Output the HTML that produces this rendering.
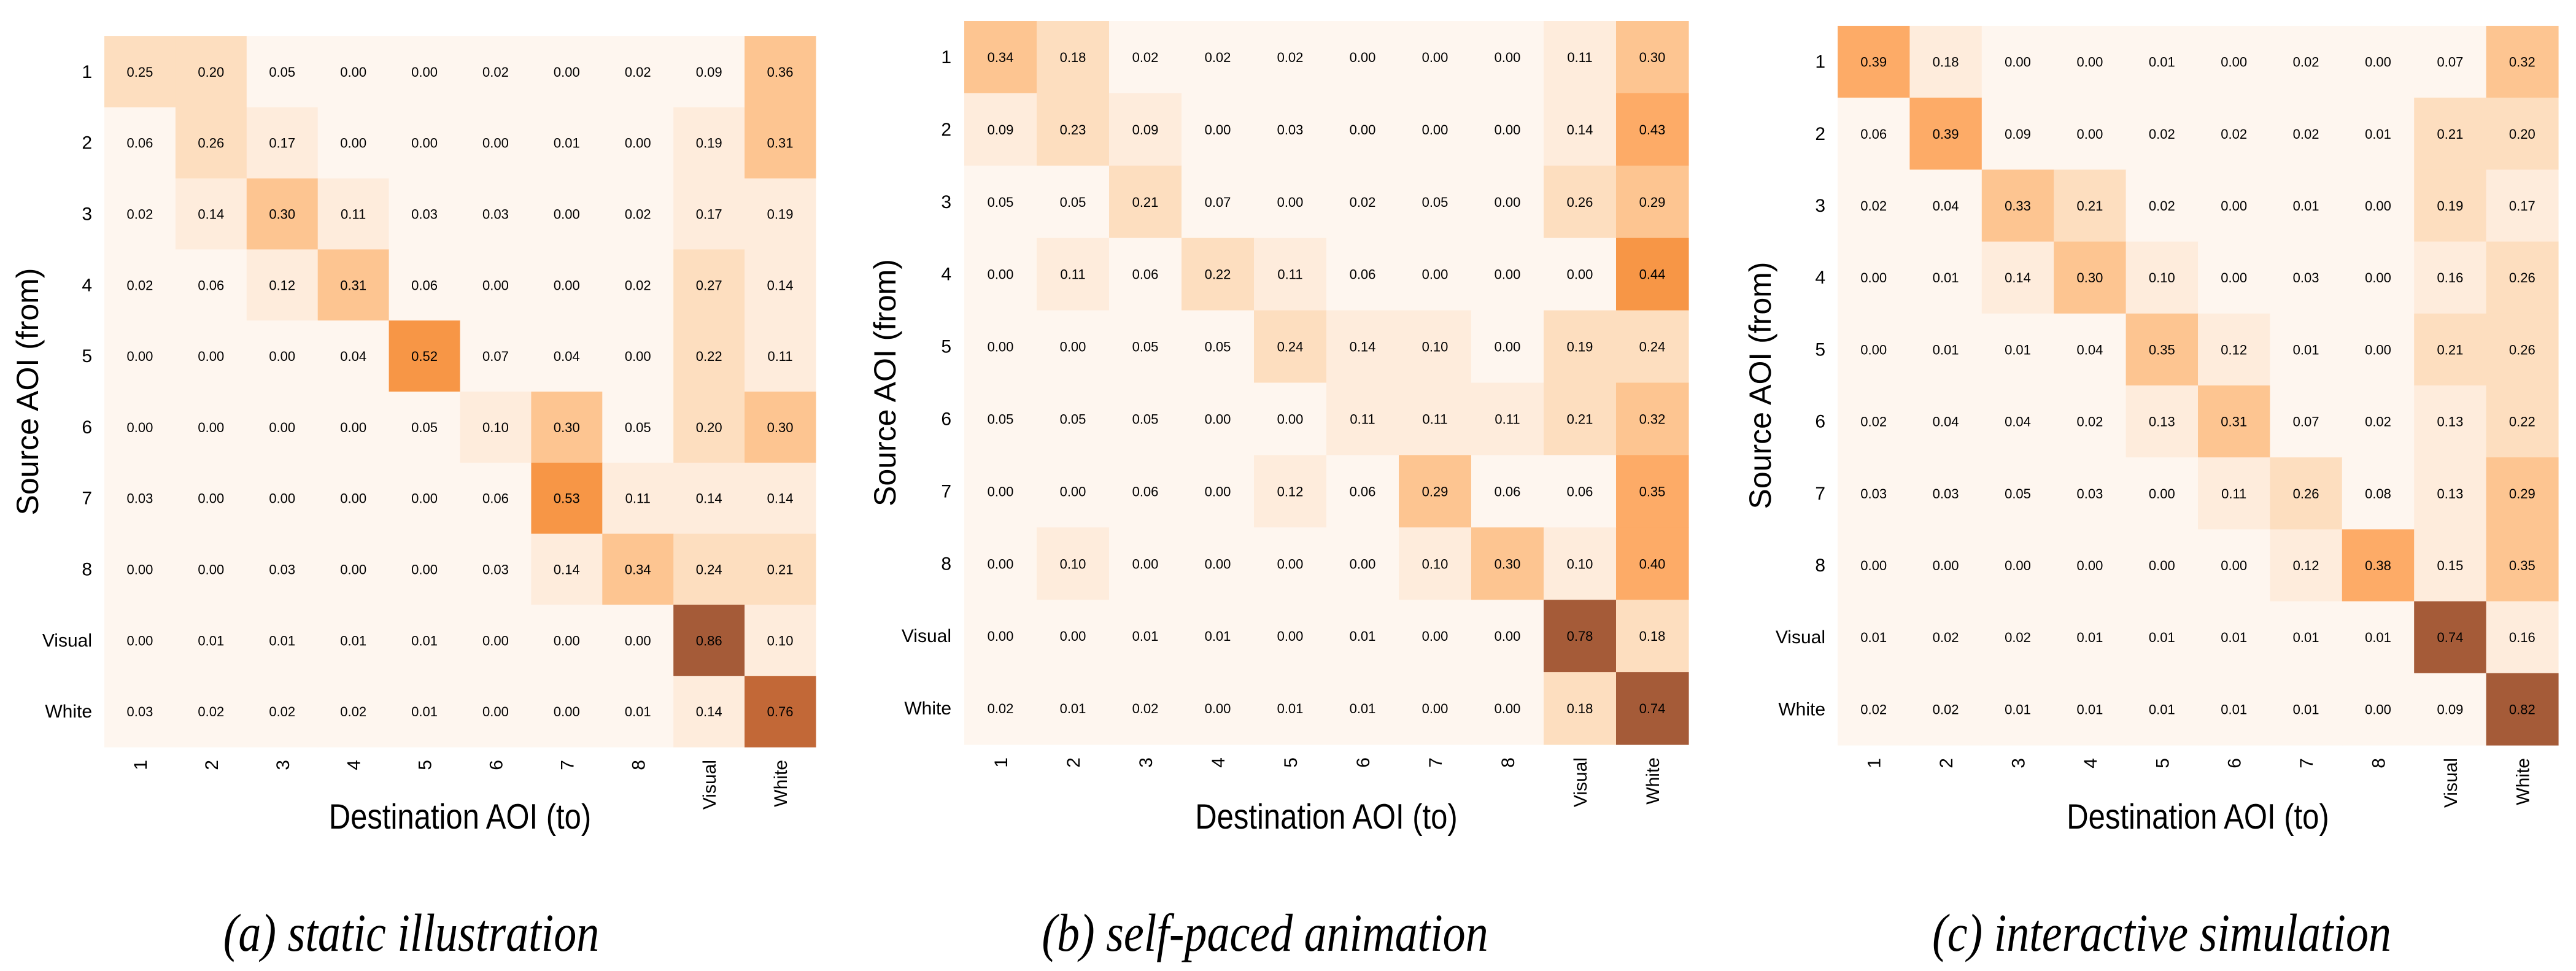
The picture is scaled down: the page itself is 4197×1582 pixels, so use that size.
<!DOCTYPE html>
<html><head><meta charset="utf-8"><style>
html,body{margin:0;padding:0;background:#fff;}
svg{display:block;}
text{font-family:"Liberation Sans",Arial,sans-serif;fill:#000;}
.cap{font-family:"Liberation Serif","Times New Roman",serif;font-style:italic;}
</style></head><body>
<svg id="fig" width="4197" height="1582" viewBox="0 0 4197 1582" xmlns="http://www.w3.org/2000/svg"></svg>
<script>
const labels = ["1","2","3","4","5","6","7","8","Visual","White"];
const valuesA = [
[.25,.20,.05,.00,.00,.02,.00,.02,.09,.36],
[.06,.26,.17,.00,.00,.00,.01,.00,.19,.31],
[.02,.14,.30,.11,.03,.03,.00,.02,.17,.19],
[.02,.06,.12,.31,.06,.00,.00,.02,.27,.14],
[.00,.00,.00,.04,.52,.07,.04,.00,.22,.11],
[.00,.00,.00,.00,.05,.10,.30,.05,.20,.30],
[.03,.00,.00,.00,.00,.06,.53,.11,.14,.14],
[.00,.00,.03,.00,.00,.03,.14,.34,.24,.21],
[.00,.01,.01,.01,.01,.00,.00,.00,.86,.10],
[.03,.02,.02,.02,.01,.00,.00,.01,.14,.76]];
const valuesB = [
[.34,.18,.02,.02,.02,.00,.00,.00,.11,.30],
[.09,.23,.09,.00,.03,.00,.00,.00,.14,.43],
[.05,.05,.21,.07,.00,.02,.05,.00,.26,.29],
[.00,.11,.06,.22,.11,.06,.00,.00,.00,.44],
[.00,.00,.05,.05,.24,.14,.10,.00,.19,.24],
[.05,.05,.05,.00,.00,.11,.11,.11,.21,.32],
[.00,.00,.06,.00,.12,.06,.29,.06,.06,.35],
[.00,.10,.00,.00,.00,.00,.10,.30,.10,.40],
[.00,.00,.01,.01,.00,.01,.00,.00,.78,.18],
[.02,.01,.02,.00,.01,.01,.00,.00,.18,.74]];
const valuesC = [
[.39,.18,.00,.00,.01,.00,.02,.00,.07,.32],
[.06,.39,.09,.00,.02,.02,.02,.01,.21,.20],
[.02,.04,.33,.21,.02,.00,.01,.00,.19,.17],
[.00,.01,.14,.30,.10,.00,.03,.00,.16,.26],
[.00,.01,.01,.04,.35,.12,.01,.00,.21,.26],
[.02,.04,.04,.02,.13,.31,.07,.02,.13,.22],
[.03,.03,.05,.03,.00,.11,.26,.08,.13,.29],
[.00,.00,.00,.00,.00,.00,.12,.38,.15,.35],
[.01,.02,.02,.01,.01,.01,.01,.01,.74,.16],
[.02,.02,.01,.01,.01,.01,.01,.00,.09,.82]];
const captions = ["(a) static illustration","(b) self-paced animation","(c) interactive simulation"];
const panelIds = ["a","b","c"];

const palette = ["#fef6ef","#feecdc","#fddebf","#fdc591","#fdab67","#f79646","#e07c3a","#c26837","#a55b38"];
const layouts = [
 {x0:170,x1:1329,y0:59,y1:1217,rowLab:150,yTitle:62,capX:670},
 {x0:1571,x1:2751,y0:34,y1:1213,rowLab:1550,yTitle:1459,capX:2061},
 {x0:2994,x1:4168,y0:42,y1:1214,rowLab:2974,yTitle:2885,capX:3522}];
const NS="http://www.w3.org/2000/svg";
const svg=document.getElementById('fig');
function mk(tag,attrs,parent){const e=document.createElementNS(NS,tag);for(const k in attrs)e.setAttribute(k,attrs[k]);parent.appendChild(e);return e;}

[valuesA,valuesB,valuesC].forEach((vals,p)=>{
  const L=layouts[p];
  const g=mk('g',{},svg);
  
  
  const n=labels.length;
  const cw=(L.x1-L.x0)/n, ch=(L.y1-L.y0)/n;
  const xs=i=>L.x0+i*cw, ys=i=>L.y0+i*ch;
  let mx=0; vals.forEach(r=>r.forEach(v=>{if(v>mx)mx=v;}));
  const color=v=>{let b=Math.floor(v/mx*9-1e-9); if(b<0)b=0; if(b>8)b=8; return palette[b];};
  vals.forEach((row,i)=>row.forEach((v,j)=>{
    const r=mk('rect',{x:xs(j),y:ys(i),width:cw+0.6,height:ch+0.6,fill:color(v)},g);
    
    
    const t=mk('text',{x:xs(j)+cw/2,y:ys(i)+ch/2+8,'text-anchor':'middle','font-size':22},g);
    
    
    t.textContent=v.toFixed(2);
  }));
  labels.forEach((lab,i)=>{
    const t=mk('text',{x:L.rowLab,y:ys(i)+ch/2+10,'text-anchor':'end','font-size':30},g);
    
    
    t.textContent=lab;
    const cx=xs(i)+cw/2+11, ty=L.y1+21;
    const u=mk('text',{transform:`translate(${cx},${ty}) rotate(-90)`,'text-anchor':'end','font-size':30},g);
    
    
    u.textContent=lab;
  });
  const yt=mk('text',{transform:`translate(${L.yTitle},${(L.y0+L.y1)/2}) rotate(-90)`,'text-anchor':'middle','font-size':50},g);
  
  
  yt.textContent='Source AOI (from)';
  const xt=mk('text',{transform:`translate(${(L.x0+L.x1)/2},1350) scale(1,1.17)`,'text-anchor':'middle','font-size':49},g);
  
  
  xt.textContent='Destination AOI (to)';
  const c=mk('text',{class:'cap',transform:`translate(${L.capX},1549) scale(1,1.17)`,'text-anchor':'middle','font-size':74},g);
  
  
  c.textContent=captions[p];
});
</script>
</body></html>
